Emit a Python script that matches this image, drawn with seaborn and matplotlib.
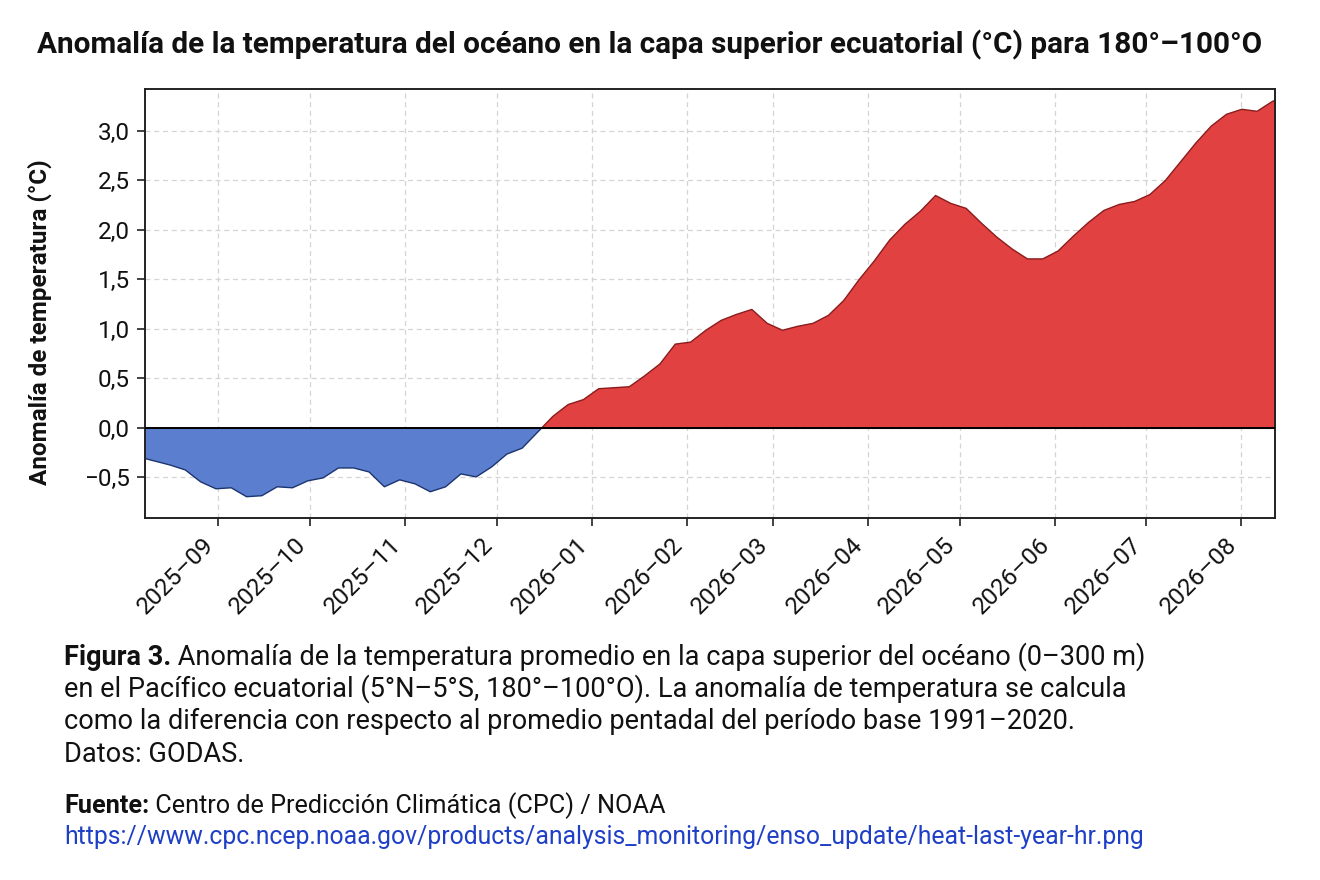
import matplotlib
matplotlib.use("Agg")
import matplotlib.pyplot as plt
import matplotlib.dates as mdates
import matplotlib.ticker as mticker
import seaborn as sns
import numpy as np
import pandas as pd

# pentadas (cada 5 dias) desde 2025-08-06
start_date = "2025-08-06"
anomaly = [
    -0.29, -0.33, -0.37, -0.42, -0.54, -0.61, -0.60, -0.69, -0.68, -0.59,
    -0.60, -0.53, -0.50, -0.40, -0.40, -0.44, -0.59, -0.52, -0.56, -0.64,
    -0.59, -0.46, -0.49, -0.39, -0.26, -0.20, -0.04, 0.12, 0.24, 0.29,
    0.40, 0.41, 0.42, 0.53, 0.65, 0.85, 0.87, 0.99, 1.09, 1.15,
    1.20, 1.06, 0.99, 1.03, 1.06, 1.14, 1.29, 1.50, 1.69, 1.90,
    2.06, 2.19, 2.35, 2.27, 2.22, 2.07, 1.93, 1.81, 1.71, 1.71,
    1.79, 1.94, 2.08, 2.20, 2.26, 2.29, 2.36, 2.50, 2.69, 2.88,
    3.05, 3.17, 3.22, 3.20, 3.30, 3.36,
]
y_ticks = [-0.5, 0.0, 0.5, 1.0, 1.5, 2.0, 2.5, 3.0]

title = "Anomalía de la temperatura del océano en la capa superior ecuatorial (°C) para 180°–100°O"
y_label = "Anomalía de temperatura (°C)"
caption_bold = "Figura 3."
caption_lines = [
    " Anomalía de la temperatura promedio en la capa superior del océano (0–300 m)",
    "en el Pacífico ecuatorial (5°N–5°S, 180°–100°O). La anomalía de temperatura se calcula",
    "como la diferencia con respecto al promedio pentadal del período base 1991–2020.",
    "Datos: GODAS.",
]
source_bold = "Fuente:"
source_text = " Centro de Predicción Climática (CPC) / NOAA"
source_url = "https://www.cpc.ncep.noaa.gov/products/analysis_monitoring/enso_update/heat-last-year-hr.png"

df = pd.DataFrame({
    "fecha": pd.date_range(start_date, periods=len(anomaly), freq="5D"),
    "anomalia": anomaly,
})

sns.set_theme(style="whitegrid")
plt.rcParams["font.family"] = ["Roboto", "DejaVu Sans"]
plt.rcParams["axes.unicode_minus"] = True

W, H = 1320, 880
fig = plt.figure(figsize=(W / 100, H / 100), dpi=100)
fig.patch.set_facecolor("white")
ax = fig.add_axes([145 / W, 1 - 518 / H, 1130 / W, 429 / H])
ax.set_facecolor("white")

vals = df["anomalia"].to_numpy()
ax.fill_between(df["fecha"], vals, 0, where=vals >= 0, interpolate=True,
                facecolor="#e24141", edgecolor="#8a1c1c", linewidth=1.0, zorder=2)
ax.fill_between(df["fecha"], vals, 0, where=vals <= 0, interpolate=True,
                facecolor="#5b7fce", edgecolor="#1c3470", linewidth=1.0, zorder=2)
ax.axhline(0, color="black", linewidth=1.4, zorder=3)

ax.set_xlim(pd.Timestamp("2025-08-08"), pd.Timestamp("2026-08-12"))
ax.set_ylim(-0.91, 3.42)
ax.set_yticks(y_ticks)
ax.yaxis.set_major_formatter(
    mticker.FuncFormatter(lambda v, p: f"{v:.1f}".replace(".", ",").replace("-", "\u2212")))
ax.xaxis.set_major_locator(mdates.MonthLocator())
ax.xaxis.set_major_formatter(mdates.DateFormatter("%Y–%m"))

ax.grid(True, linestyle=(0, (4, 3)), color="#d4d4d4", linewidth=0.9, zorder=0)
ax.set_axisbelow(True)
for s in ax.spines.values():
    s.set_color("#222222")
    s.set_linewidth(1.4)
ax.tick_params(axis="both", direction="out", length=6, width=1.2, color="#222222",
               labelsize=17.5, labelcolor="#111111", bottom=True, left=True, pad=5)
plt.setp(ax.get_xticklabels(), rotation=45, ha="right")

ax.set_xlabel("")
ax.set_ylabel(y_label, fontsize=17.5, fontweight="bold", color="#111111")
ax.yaxis.set_label_coords(-0.082, 0.457)

fig.text(37 / W, 1 - 45 / H, title, fontsize=21.4, fontweight="bold",
         color="#111111", ha="left", va="center")

# caption with bold lead-in words
fig.canvas.draw()
renderer = fig.canvas.get_renderer()
cap_x = 64 / W
line_y = [657, 689, 721, 754]
for i, line in enumerate(caption_lines):
    x = cap_x
    if i == 0:
        t = fig.text(x, 1 - line_y[i] / H, caption_bold, fontsize=19.5, fontweight="bold",
                     color="#111111", ha="left", va="center")
        bb = t.get_window_extent(renderer)
        x = bb.x1 / W
    fig.text(x, 1 - line_y[i] / H, line, fontsize=19.5, color="#111111",
             ha="left", va="center")

t = fig.text(cap_x, 1 - 806 / H, source_bold, fontsize=18.2, fontweight="bold",
             color="#111111", ha="left", va="center")
bb = t.get_window_extent(renderer)
fig.text(bb.x1 / W, 1 - 806 / H, source_text, fontsize=18.2, color="#111111",
         ha="left", va="center")
fig.text(cap_x, 1 - 837 / H, source_url, fontsize=17.8, color="#1f3fc7",
         ha="left", va="center")

fig.savefig("out.png", dpi=100, facecolor="white")
